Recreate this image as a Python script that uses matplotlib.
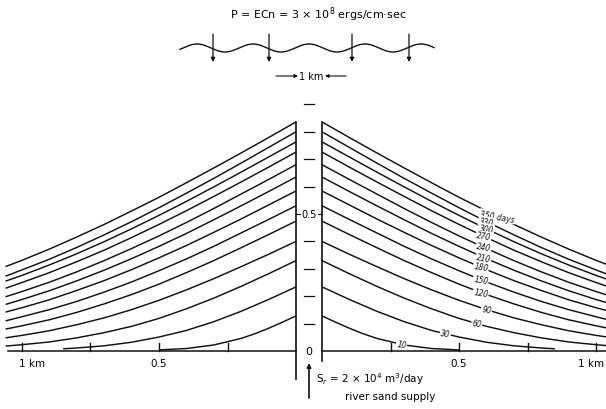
import numpy as np
import matplotlib
matplotlib.use("Agg")
import matplotlib.pyplot as plt

# ---------------- data (km) ----------------
days = [350, 330, 300, 270, 240, 210, 180, 150, 120, 90, 60, 30, 10]
curve_labels = ["350 days", "330", "300", "270", "240", "210", "180",
                "150", "120", "90", "60", "30", "10"]

# distance from the jetty wall (km)
dist_main = [0.0, 0.1, 0.2, 0.3, 0.4, 0.5, 0.6, 0.7, 0.8, 0.9, 1.0, 1.06]
dist_30 = [0.0, 0.1, 0.2, 0.3, 0.4, 0.5, 0.6, 0.7, 0.8, 0.85]
dist_10 = [0.0, 0.05, 0.1, 0.15, 0.2, 0.3, 0.4, 0.5]

# shoreline advance (km)
shore_350 = [0.836, 0.779, 0.723, 0.668, 0.614, 0.561, 0.511, 0.462, 0.416, 0.372, 0.331, 0.308]
shore_330 = [0.800, 0.743, 0.686, 0.630, 0.576, 0.523, 0.472, 0.424, 0.378, 0.335, 0.296, 0.273]
shore_300 = [0.763, 0.708, 0.653, 0.599, 0.546, 0.495, 0.446, 0.399, 0.355, 0.314, 0.276, 0.255]
shore_270 = [0.726, 0.671, 0.617, 0.564, 0.512, 0.462, 0.414, 0.368, 0.326, 0.286, 0.250, 0.229]
shore_240 = [0.680, 0.626, 0.573, 0.520, 0.469, 0.420, 0.374, 0.330, 0.289, 0.251, 0.217, 0.198]
shore_210 = [0.635, 0.582, 0.530, 0.479, 0.429, 0.382, 0.337, 0.295, 0.256, 0.220, 0.188, 0.170]
shore_180 = [0.584, 0.533, 0.482, 0.433, 0.385, 0.340, 0.297, 0.257, 0.221, 0.187, 0.158, 0.142]
shore_150 = [0.530, 0.480, 0.431, 0.382, 0.336, 0.293, 0.252, 0.215, 0.181, 0.151, 0.125, 0.110]
shore_120 = [0.474, 0.425, 0.377, 0.330, 0.286, 0.244, 0.206, 0.172, 0.141, 0.114, 0.092, 0.080]
shore_90 = [0.400, 0.353, 0.308, 0.264, 0.223, 0.185, 0.151, 0.121, 0.096, 0.074, 0.057, 0.048]
shore_60 = [0.330, 0.282, 0.236, 0.193, 0.154, 0.119, 0.090, 0.067, 0.048, 0.033, 0.023, 0.018]
shore_30 = [0.234, 0.188, 0.145, 0.107, 0.075, 0.051, 0.032, 0.019, 0.011, 0.008]
shore_10 = [0.128, 0.105, 0.083, 0.063, 0.046, 0.022, 0.009, 0.004]

series = [
    (dist_main, shore_350), (dist_main, shore_330), (dist_main, shore_300),
    (dist_main, shore_270), (dist_main, shore_240), (dist_main, shore_210),
    (dist_main, shore_180), (dist_main, shore_150), (dist_main, shore_120),
    (dist_main, shore_90), (dist_main, shore_60), (dist_30, shore_30),
    (dist_10, shore_10),
]
label_dist = [0.64, 0.60, 0.60, 0.59, 0.59, 0.59, 0.58, 0.58, 0.58, 0.60, 0.565, 0.45, 0.29]

axis_ticks_km = [0.25, 0.5, 0.75, 1.0]
ruler_ticks_km = [0.1, 0.2, 0.3, 0.4, 0.6, 0.7, 0.8, 0.9]

# ---------------- figure ----------------
W, H = 606, 410
fig = plt.figure(figsize=(W / 100, H / 100), dpi=100)
fig.patch.set_facecolor("white")

PX = 274.0          # pixels per km
CX, BY = 309.0, 352.0
ax = fig.add_axes([0, 0, 1, 1])
ax.set_xlim(-CX / PX, (W - CX) / PX)
ax.set_ylim(-(H - BY) / PX, BY / PX)
ax.axis("off")

half_w = 13.0 / PX   # half width of the jetty channel
lc = "#111111"
lw = 1.05

for (d, h) in series:
    d = np.asarray(d)
    h = np.asarray(h)
    ax.plot(half_w + d, h, color=lc, lw=lw, solid_capstyle="butt")
    ax.plot(-(half_w + d), h, color=lc, lw=lw, solid_capstyle="butt")

# labels on the right-hand curves
for (d, h), lab, ld in zip(series, curve_labels, label_dist):
    yv = np.interp(ld, d, h)
    ax.text(half_w + ld, yv, lab, fontsize=5.5, ha="center", va="center",
            rotation=-10, color=lc, style="italic",
            bbox=dict(facecolor="white", edgecolor="none", pad=0.5))

# walls
ax.plot([-half_w, -half_w], [shore_350[0], -28 / PX], color=lc, lw=1.2)
ax.plot([half_w, half_w], [shore_350[0], -10 / PX], color=lc, lw=1.2)

# baseline and ticks
ax.plot([-CX / PX + 8 / PX, -half_w], [0, 0], color=lc, lw=1.1)
ax.plot([half_w, (W - CX) / PX], [0, 0], color=lc, lw=1.1)
for t in axis_ticks_km:
    for s in (-1, 1):
        xx = s * (half_w + t)
        ax.plot([xx, xx], [0, 8 / PX], color=lc, lw=1.0)

# baseline labels
yl = -12 / PX
ax.text(-(half_w + 1.0) - 3 / PX, yl, "1 km", fontsize=7.5, ha="left", va="center")
ax.text(-(half_w + 0.5), yl, "0.5", fontsize=7.5, ha="center", va="center")
ax.text(half_w + 0.5, yl, "0.5", fontsize=7.5, ha="center", va="center")
ax.text((W - CX) / PX - 2 / PX, yl, "1 km", fontsize=7.5, ha="right", va="center")
ax.text(0, 0, "0", fontsize=8, ha="center", va="center")

# centre ruler
for t in ruler_ticks_km:
    ax.plot([-5 / PX, 5 / PX], [t, t], color=lc, lw=0.9)
ax.text(0, 0.5, "0.5", fontsize=7, ha="center", va="center")
ax.plot([-half_w, -9 / PX], [0.5, 0.5], color=lc, lw=0.8)
ax.plot([9 / PX, half_w], [0.5, 0.5], color=lc, lw=0.8)

# ---------------- schematic overlay in pixel space ----------------
ap = fig.add_axes([0, 0, 1, 1])
ap.set_xlim(0, W)
ap.set_ylim(H, 0)
ap.axis("off")
ap.patch.set_alpha(0)

ap.text(318, 15, "P = ECn = 3 × 10$^8$ ergs/cm·sec", fontsize=8, ha="center", va="center")

wx = np.linspace(180, 434, 400)
wy = 49 - 4.0 * np.sin(2 * np.pi * (wx - 183) / 56.0)
ap.plot(wx, wy, color=lc, lw=1.0)
for ax_x in (213, 269, 352, 409):
    ap.annotate("", xy=(ax_x, 63), xytext=(ax_x, 35),
                arrowprops=dict(arrowstyle="-|>", color=lc, lw=0.9,
                                mutation_scale=6, shrinkA=0, shrinkB=0))

ap.text(311, 77, "1 km", fontsize=7, ha="center", va="center")
ap.annotate("", xy=(298, 77), xytext=(276, 77),
            arrowprops=dict(arrowstyle="-|>", color=lc, lw=0.8, mutation_scale=5,
                            shrinkA=0, shrinkB=0))
ap.annotate("", xy=(325, 77), xytext=(346, 77),
            arrowprops=dict(arrowstyle="-|>", color=lc, lw=0.8, mutation_scale=5,
                            shrinkA=0, shrinkB=0))

# river supply arrow and text
ap.annotate("", xy=(309, 364), xytext=(309, 399),
            arrowprops=dict(arrowstyle="-|>", color=lc, lw=1.2, mutation_scale=6,
                            shrinkA=0, shrinkB=0))
ap.text(316, 379, "S$_r$ = 2 × 10$^4$ m$^3$/day", fontsize=7.5, ha="left", va="center")
ap.text(345, 397, "river sand supply", fontsize=7.5, ha="left", va="center")

fig.savefig("out.png", dpi=100, facecolor="white")
